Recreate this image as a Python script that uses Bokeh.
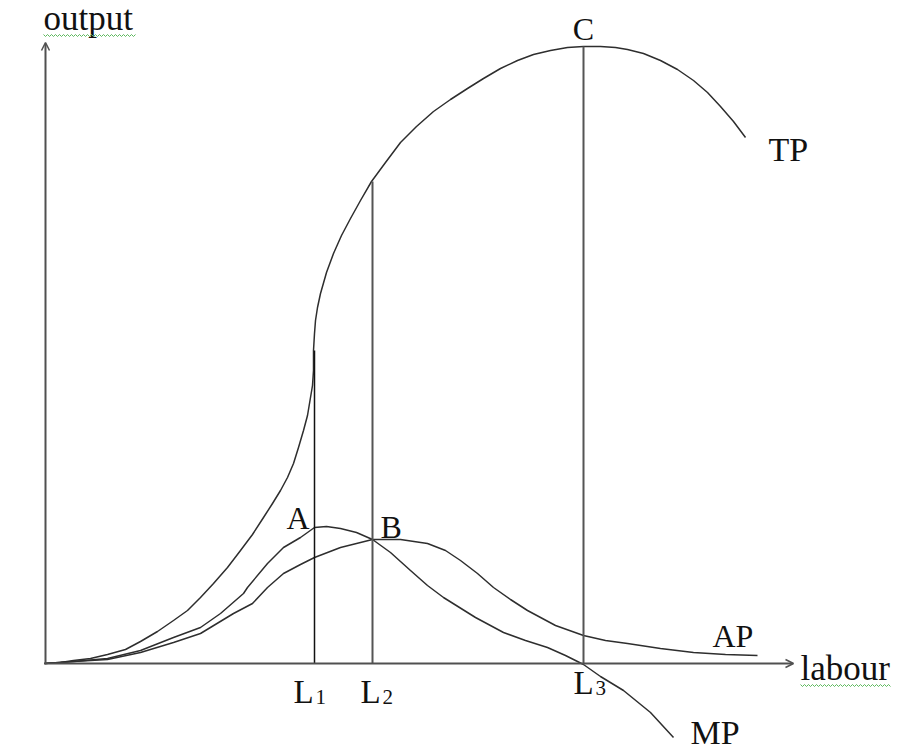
import numpy as np
from bokeh.plotting import figure
from bokeh.models import Range1d, Arrow, OpenHead
from bokeh.core.properties import value
from bokeh.embed import file_html
from bokeh.resources import INLINE

# ---- data (units: labour along x, output along y; origin at axes corner) ----
tp_labour = [0, 16, 29, 46, 63, 81, 96, 113, 129, 143,
             156, 169, 183, 196, 208, 219, 228, 236, 243, 249,
             254, 259, 263, 266, 268, 269, 269, 270, 271, 273,
             276, 282, 289, 297, 306, 316, 327, 341, 356, 372,
             389, 406, 423, 439, 456, 473, 489, 506, 523, 539,
             556, 571, 583, 599, 616, 633, 649, 663, 676, 689, 701]
tp_output = [0, 1, 3, 5, 9, 14, 22, 32, 43, 53,
             66, 80, 96, 113, 129, 146, 160, 173, 186, 200,
             216, 233, 248, 266, 278, 293, 313, 330, 343, 356,
             370, 391, 410, 428, 445, 463, 482, 501, 521, 537,
             552, 564, 575, 585, 595, 603, 609, 613, 616, 617,
             617, 616, 614, 610, 603, 594, 583, 571, 557, 542, 526]

mp_labour = [0, 29, 63, 96, 129, 156, 176, 199, 203, 223, 239, 256, 270, 282, 296, 312,
             328, 346, 366, 383, 399, 431, 459, 481, 503, 521, 539, 556, 579, 606, 629]
mp_output = [0, 2, 5, 13, 26, 36, 50, 70, 76, 100, 116, 126, 136, 137, 135, 131,
             124, 111, 93, 78, 66, 46, 31, 23, 16, 8, -1, -13, -27, -49, -74]

ap_labour = [0, 29, 63, 96, 129, 156, 189, 208, 223, 239, 256, 270, 296, 328, 356,
             383, 401, 416, 433, 449, 466, 483, 511, 539, 561, 583, 616, 649, 681, 713]
ap_output = [0, 2, 4, 11, 21, 30, 50, 60, 76, 90, 99, 106, 116, 124, 124,
             120, 113, 103, 90, 76, 64, 53, 38, 28, 23, 20, 15, 11, 9, 8]

L_points = [270, 328, 539]          # L1, L2, L3
L_tops = [313, 482, 617]            # output on TP at each L
L_names = ["1", "2", "3"]

x_axis_end = 749
y_axis_end = 621

FONT = value("Liberation Serif")
INK = "#2e2e2e"
AXIS = "#505050"

p = figure(width=912, height=752, x_range=Range1d(-44, 868), y_range=Range1d(-89, 663),
           output_backend="svg", toolbar_location=None, min_border=0)
p.axis.visible = False
p.grid.visible = False
p.outline_line_color = None
p.background_fill_color = "white"
p.border_fill_color = "white"

# axes with open arrow heads
p.add_layout(Arrow(end=OpenHead(size=8, line_color=AXIS, line_width=1.5),
                   x_start=0, y_start=0, x_end=x_axis_end, y_end=0,
                   line_color=AXIS, line_width=2))
p.add_layout(Arrow(end=OpenHead(size=8, line_color=AXIS, line_width=1.5),
                   x_start=1, y_start=0, x_end=1, y_end=y_axis_end,
                   line_color=AXIS, line_width=2))

# curves
p.line(tp_labour, tp_output, line_color=INK, line_width=1.5, line_join="round")
p.line(mp_labour, mp_output, line_color=INK, line_width=1.5, line_join="round")
p.line(ap_labour, ap_output, line_color=INK, line_width=1.5, line_join="round")

# vertical lines
p.segment(x0=L_points, y0=[0, 0, 0], x1=L_points, y1=L_tops,
          line_color=["#111111", "#555555", "#555555"], line_width=[1.5, 2, 2])

# labels (SVG baseline renders ~10px lower, so positions are raised accordingly)
def lbl(x, y, t, size="34px", align="left"):
    p.text(x=[x], y=[y + 10], text=[t], text_font=FONT, text_font_size=size,
           text_color="#111111", text_align=align, text_baseline="alphabetic")

lbl(-1, 635, "output", size="35px")
lbl(756, -15, "labour", size="35px")
lbl(539, 625, "C", size="32px", align="center")
lbl(724, 504, "TP")
lbl(668, 18, "AP", size="32px")
lbl(646, -79, "MP")
lbl(242, 136, "A", size="32px")
lbl(336, 127, "B", size="32px")

L_x = [249, 316, 529]
L_y = [-38, -38, -29]
S_x = [271, 338, 551]
S_y = [-43, -43, -34]
for i, nm in enumerate(L_names):
    lbl(L_x[i], L_y[i], "L", size="33px")
    lbl(S_x[i], S_y[i], nm, size="21px")

# spell-check style wavy underlines
for x0, x1, yy in [(-1, 91, 628), (756, 846, -22)]:
    xs = np.arange(x0, x1 + 0.1, 2.0)
    ys = yy + np.where(np.arange(len(xs)) % 2 == 0, 1.0, -1.0)
    p.line(xs, ys, line_color="#5cb85c", line_width=1)

open("out.html", "w").write(file_html(p, INLINE))
